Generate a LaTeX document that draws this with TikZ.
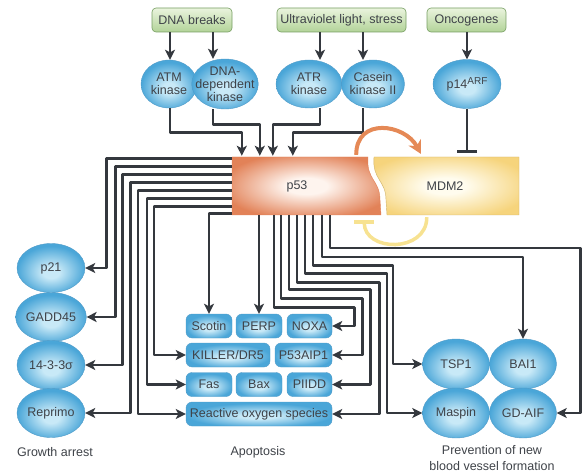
\documentclass[tikz,border=0pt]{standalone}
\usepackage{fontspec}
\setmainfont{Liberation Sans}
\usetikzlibrary{shapes.geometric,arrows.meta,calc}
\definecolor{ink}{RGB}{52,56,62}
\definecolor{txt}{RGB}{62,66,72}
\definecolor{skyl}{RGB}{200,233,247}
\definecolor{skym}{RGB}{74,166,216}
\definecolor{skyd}{RGB}{80,155,200}
\definecolor{leafl}{RGB}{234,244,222}
\definecolor{leafm}{RGB}{178,211,152}
\definecolor{leafd}{RGB}{118,158,98}
\definecolor{rustl}{RGB}{254,244,238}
\definecolor{rust}{RGB}{226,130,88}
\definecolor{sandl}{RGB}{255,252,238}
\definecolor{sand}{RGB}{246,212,124}
\definecolor{sandd}{RGB}{208,178,104}
\definecolor{loopo}{RGB}{229,137,86}
\definecolor{loopy}{RGB}{247,226,145}
\pgfdeclareradialshading{p53glow}{\pgfpointorigin}{color(0bp)=(rustl); color(7bp)=(rustl); color(29bp)=(rust); color(50bp)=(rust)}
\pgfdeclareradialshading{mdmglow}{\pgfpointorigin}{color(0bp)=(sandl); color(7bp)=(sandl); color(29bp)=(sand); color(50bp)=(sand)}
\pgfdeclareradialshading{skyglow}{\pgfpoint{0bp}{-5bp}}{color(0bp)=(skyl); color(6bp)=(skyl); color(25bp)=(skym); color(50bp)=(skym)}
\begin{document}
\begin{tikzpicture}[x=1pt, y=-1pt, font=\fontsize{12.5}{13}\selectfont, text=txt, line join=round, >={Stealth[length=10pt,width=10pt,inset=2.5pt]}]
	\tikzset{cause/.style={draw=leafd, line width=0.6pt, rounded corners=4pt, top color=leafl, bottom color=leafm, minimum height=24pt, inner sep=0pt},
		blob/.style={ellipse, draw=skyd, line width=0.4pt, shading=skyglow, inner sep=0pt, minimum width=66pt, minimum height=48pt, align=center},
		tile/.style={draw=skyd, line width=0.4pt, rounded corners=6pt, shading=skyglow, inner sep=0pt, minimum width=46pt, minimum height=24pt},
		arr/.style={->, draw=ink, line width=2.6pt},
		inhib/.style={-{Bar[width=20pt]}, line width=2.6pt}}
	\useasboundingbox (0,0) rectangle (587,476);
	% signals
	\node[cause, minimum width=80pt] (dnab) at (192,20) {DNA breaks};
	\node[cause, minimum width=129pt] (uv) at (341.5,20) {Ultraviolet light, stress};
	\node[cause, minimum width=79pt] (onco) at (466.5,20) {Oncogenes};
	\node[blob, minimum width=56pt] (atm) at (169,84) {ATM\\kinase};
	\node[blob, inner xsep=-6pt, inner ysep=-1.5pt, minimum height=50pt] (dnapk) at (225,84) {DNA-\\dependent\\kinase};
	\node[blob] (atr) at (309,84) {ATR\\kinase};
	\node[blob, minimum width=62pt, inner xsep=-1pt] (ck2) at (373,84) {Casein\\kinase II};
	\node[blob, minimum width=68pt, minimum height=49pt] (arf) at (467,84) {p14\raisebox{4pt}{\fontsize{10}{10}\selectfont ARF}};
	% p53 and MDM2
	\shadedraw[shading=p53glow, draw=rust, line width=0.4pt] (232,157) -- (368,157) .. controls (366,180) and (380,180) .. (380,200) -- (381,215) -- (232,215) -- cycle;
	\shadedraw[shading=mdmglow, draw=sandd, line width=0.4pt] (374,157) -- (519,157) -- (519,215) -- (387,215) -- (386,200) .. controls (386,180) and (372,180) .. (374,157) -- cycle;
	\node[minimum width=130pt, minimum height=58pt, inner sep=0pt] (p53) at (297,186) {p53};
	\node[minimum width=120pt, minimum height=58pt, inner sep=0pt] (mdm) at (445,186) {MDM2};
	% targets
	\foreach \n/\y/\t in {p21/268/p21, gadd/317/GADD45, sigma/365/{14-3-3σ}, repr/413/Reprimo}
		\node[blob, minimum width=68pt, minimum height=49pt] (\n) at (51,\y) {\t};
	\foreach \n/\x/\y/\w/\t in {scotin/209/326/46/Scotin, perp/259/326/46/PERP, noxa/309.5/326/45/NOXA, killer/228/355/84/{KILLER/DR5}, p53aip/303.5/355/57/P53AIP1, fas/209/384.5/46/Fas, bax/259/384.5/46/Bax, piidd/309.5/384.5/45/PIIDD, ros/259/414/146/Reactive oxygen species}
		\node[tile, minimum width=\w pt] (\n) at (\x,\y) {\t};
	\foreach \n/\x/\y/\t in {tsp/456/364/TSP1, bai/523/364/BAI1, maspin/456/413/Maspin, gdaif/523/413/GD-AIF}
		\node[blob, minimum width=67pt, minimum height=50pt] (\n) at (\x,\y) {\t};
	\node (growth) at (55,452) {Growth arrest};
	\node (apop) at (258,452) {Apoptosis};
	\node[align=center, font=\fontsize{12.5}{16}\selectfont] (angio) at (492,458) {Prevention of new\\blood vessel formation};
	% connectors
	\foreach \s/\e/\d in {dnab/atm/1, dnab/dnapk/-12, uv/atr/11, uv/ck2/-10, onco/arf/0}
		\draw[arr] ($(\s.south -| \e.north)+(\d,0)$) -- ($(\e.north)+(\d,0)$);
	\foreach \e/\d/\px/\py in {atm/1/10/24, dnapk/-12/28/32, atr/11/41/32, ck2/-10/61/24}
		\draw[arr] ($(\e.south)+(\d,0)$) |- ($(p53.north west)+(\px,-\py)$) -- ($(p53.north west)+(\px,-1)$);
	\foreach \dy/\t/\a/\ox in {2/p21/east/21, 10/gadd/east/29, 18/sigma/east/37, 26/repr/east/45, 34/ros/west/-48, 42/fas/west/-39, 50/killer/west/-32}
		\draw[arr] ($(p53.north west)+(0,\dy)$) -| ($(\t.\a)+(\ox,0)$) -- (\t.\a);
	\draw[arr] ($(p53.south west)+(0,-1.5)$) -| (scotin.north);
	\draw[arr] (perp.north |- p53.south) -- (perp.north);
	\foreach \dx/\lv/\t/\a/\ox in {42/92/noxa/east/22, 49/83/p53aip/east/30, 57/74/piidd/east/38, 65/67/ros/east/47, 73/58/maspin/west/-35.5, 81/50/tsp/west/-29.5, 98/33/gdaif/east/23.5}
		\draw[arr] ($(p53.south west)+(\dx,0)$) -- ++(0,\lv) -| ($(\t.\a)+(\ox,0)$) -- (\t.\a);
	\draw[arr] ($(p53.south west)+(90,0)$) -- ++(0,42) -| (bai.north);
	% feedback loop
	\draw[-{Stealth[length=13pt,width=14pt]}, loopo, line width=4pt] ($(p53.north east)+(-6,-2)$) .. controls +(0,-38) and +(-16,-30) .. ($(mdm.north west)+(36,-3)$);
	\draw[inhib, loopy, line width=3.5pt] ($(mdm.south west)+(42,2)$) .. controls +(0,36) and +(0,32) .. ($(p53.south east)+(2,5)$);
	\draw[inhib, ink] (arf.south) -- ($(arf.south |- mdm.north)+(0,-4)$);
\end{tikzpicture}
\end{document}
